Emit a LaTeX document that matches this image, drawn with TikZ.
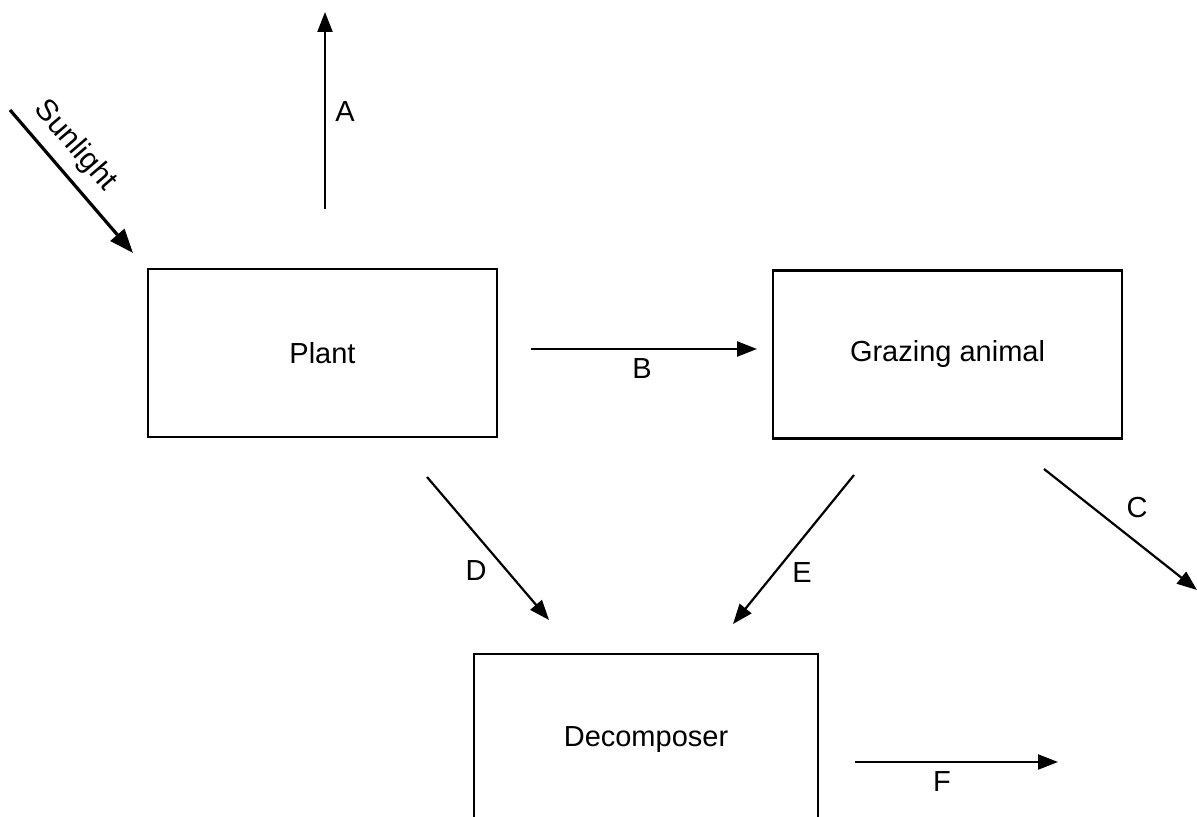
\documentclass[tikz,border=0pt]{standalone}
\usepackage{fontspec}
\setmainfont{Liberation Sans}
\usetikzlibrary{arrows.meta}
\begin{document}
\begin{tikzpicture}[x=0.5pt,y=-0.5pt,
  box/.style={draw,line width=1.1pt,minimum width=174.5pt,minimum height=84pt,inner sep=0pt,font=\fontsize{14.5}{17}\selectfont},
  flow/.style={line width=1.1pt,-{Triangle[length=10pt,width=7.5pt]}},
  lbl/.style={font=\fontsize{14.5}{17}\selectfont,inner sep=0pt}]
\useasboundingbox (0,0) rectangle (1197,817);
\node[box] (plant) at (322.5,353) {Plant};
\node[box] (graze) at (947.5,354.5) {Grazing animal};
\node[lbl] (dec) at (646,740) {Decomposer};
\coordinate (dtl) at (474,654);
\coordinate (dtr) at (818,654);
\draw[line width=1.1pt] (474,817) -- (dtl) -- (dtr) -- (818,817);
% A
\coordinate (a0) at (325,209);
\coordinate (a1) at (325,12);
\draw[flow] (a0) -- (a1);
\node[lbl] (la) at (345,112) {A};
% Sunlight
\coordinate (s0) at (10,110);
\coordinate (s1) at (133,253);
\draw[line width=1.6pt,-{Triangle[length=12pt,width=9pt]}] (s0) -- (s1);
\node[lbl,rotate=-49.3] (ls) at (75,146) {\fontsize{15}{17}\selectfont Sunlight};
% B
\coordinate (b0) at (531,349);
\coordinate (b1) at (757,349);
\draw[flow] (b0) -- (b1);
\node[lbl] (lb) at (642,369) {B};
% D
\coordinate (d0) at (427,477);
\coordinate (d1) at (549,620);
\draw[flow] (d0) -- (d1);
\node[lbl] (ld) at (476,571) {D};
% E
\coordinate (e0) at (854,475);
\coordinate (e1) at (733,624);
\draw[flow] (e0) -- (e1);
\node[lbl] (le) at (802,573) {E};
% C
\coordinate (c0) at (1044,469);
\coordinate (c1) at (1197,590);
\draw[flow] (c0) -- (c1);
\node[lbl] (lc) at (1137,508) {C};
% F
\coordinate (f0) at (855,762);
\coordinate (f1) at (1058,762);
\draw[flow] (f0) -- (f1);
\node[lbl] (lf) at (942,782) {F};
\end{tikzpicture}
\end{document}
